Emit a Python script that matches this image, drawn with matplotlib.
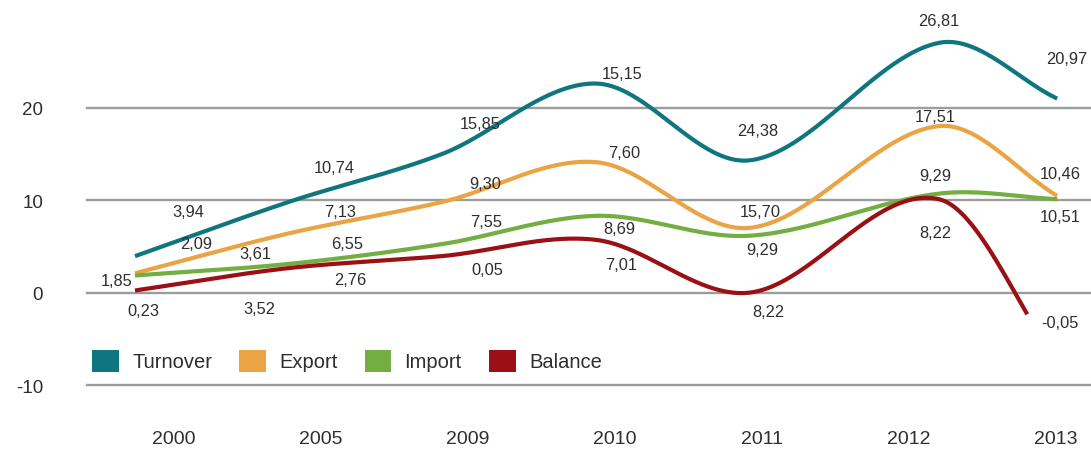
import numpy as np
import matplotlib
matplotlib.use("Agg")
import matplotlib.pyplot as plt
from matplotlib.patches import Patch
from matplotlib import transforms

# ---- data -------------------------------------------------------------
years = ["2000", "2005", "2009", "2010", "2011", "2012", "2013"]

# values (one per year slot)
turnover = [3.94, 9.8, 15.0, 22.6, 14.3, 27.0, 20.97]
export = [2.09, 6.4, 9.8, 14.1, 7.0, 18.0, 10.46]
imports = [1.85, 3.1, 5.25, 8.3, 6.15, 10.7, 10.1]
balance = [0.23, 2.65, 3.95, 5.7, 0.0, 10.1, -7.5]

# printed figures
turnover_labels = [3.94, 10.74, 15.85, 15.15, 24.38, 26.81, 20.97]
export_labels = [2.09, 7.13, 9.30, 7.55, 15.70, 17.51, 10.46]
import_labels = [1.85, 3.61, 6.55, 7.60, 8.69, 9.29, 9.29, 10.51]
balance_labels = [0.23, 3.52, 2.76, 0.05, 7.01, 8.22, 8.22, -0.05]

y_ticks = [20, 10, 0, -10]
series_names = ["Turnover", "Export", "Import", "Balance"]

# ---- layout -----------------------------------------------------------
W, H = 1091, 451
colors = ["#0f7680", "#eaa444", "#73ae42", "#9a1014"]
text_color = "#2e2e2e"
font = ["Liberation Sans", "DejaVu Sans"]

# horizontal placement of the curve knots (the 2012 knot sits a little late)
curve_x = [0, 1, 2, 3, 4, 5.23, 6]
balance_stop = 5.81   # the balance curve is cut short before the last knot

# label anchors in (year slot, value) units
turnover_pos = [(0.10, 8.7), (1.09, 13.47), (2.08, 18.22), (3.05, 23.63),
                (3.97, 17.46), (5.20, 29.26), (6.07, 25.15)]
export_pos = [(0.15, 5.15), (1.13, 8.61), (2.12, 11.74), (2.12, 7.63),
              (3.99, 8.71), (5.18, 18.88), (6.03, 12.82)]
import_pos = [(-0.39, 1.25), (0.55, 4.17), (1.18, 5.15), (3.06, 15.09),
              (3.03, 6.77), (4.0, 4.6), (5.18, 12.6), (6.03, 8.17)]
balance_pos = [(-0.21, -1.99), (0.58, -1.88), (1.20, 1.36), (2.13, 2.44),
               (3.04, 2.88), (4.04, -2.2), (5.18, 6.34), (6.03, -3.3)]


def smooth_curve(xk, values, n=80):
    """Cubic Hermite curve through the knots with Catmull-Rom style tangents."""
    x = np.asarray(xk, dtype=float)
    y = np.asarray(values, dtype=float)
    k = len(y)
    m = np.empty(k)
    m[1:-1] = (y[2:] - y[:-2]) / (x[2:] - x[:-2])
    m[0] = (y[1] - y[0]) / (x[1] - x[0])
    m[-1] = (y[-1] - y[-2]) / (x[-1] - x[-2])
    xs, ys = [], []
    for i in range(k - 1):
        h = x[i + 1] - x[i]
        t = np.linspace(0, 1, n, endpoint=(i == k - 2))
        h00 = 2 * t**3 - 3 * t**2 + 1
        h10 = t**3 - 2 * t**2 + t
        h01 = -2 * t**3 + 3 * t**2
        h11 = t**3 - t**2
        xs.append(x[i] + h * t)
        ys.append(h00 * y[i] + h10 * h * m[i] + h01 * y[i + 1] + h11 * h * m[i + 1])
    return np.concatenate(xs), np.concatenate(ys)


fig = plt.figure(figsize=(W / 100, H / 100), dpi=100)
fig.patch.set_facecolor("white")

# axes for the curves: first knot at 135 px, 153.7 px per slot
ax = fig.add_axes([0, 0, 1, 1])
ax.axis("off")
ax.set_xlim(-135 / 153.7, (W - 135) / 153.7)
ax.set_ylim((292.6 - H) / 9.25, 292.6 / 9.25)

# axes for year captions and printed figures: first slot at 174 px, 147 px per slot
ax_years = fig.add_axes([0, 0, 1, 1])
ax_years.axis("off")
ax_years.set_xlim(-174 / 147, (W - 174) / 147)
ax_years.set_ylim(ax.get_ylim())

for v in y_ticks:
    ax.axhline(v, xmin=87 / W, xmax=1, color="#9c9c9c", lw=1.7, zorder=1)

ytrans = transforms.offset_copy(
    transforms.blended_transform_factory(fig.transFigure, ax.transData),
    fig=fig, y=-3, units="dots")
for v in y_ticks:
    ax.text(43 / W, v, str(v), transform=ytrans, ha="right", va="center",
            fontsize=13.5, color=text_color, family=font)

for vals, c, name in zip([turnover, export, imports, balance], colors, series_names):
    x, y = smooth_curve(curve_x, vals)
    if name == "Balance":
        keep = x <= balance_stop
        x, y = x[keep], y[keep]
    ax.plot(x, y, color=c, lw=3.0, solid_capstyle="butt", zorder=3)

for labels, pos in [(turnover_labels, turnover_pos), (export_labels, export_pos),
                    (import_labels, import_pos), (balance_labels, balance_pos)]:
    for val, (lx, ly) in zip(labels, pos):
        ax_years.text(lx, ly, f"{val:.2f}".replace(".", ","), ha="center",
                      va="center", fontsize=11.8, color=text_color, family=font,
                      zorder=4)

for j, yr in enumerate(years):
    ax_years.text(j, (292.6 - 440) / 9.25, yr, ha="center", va="center",
                  fontsize=14, color=text_color, family=font)

handles = [Patch(facecolor=c, edgecolor="none") for c in colors]
fig.legend(handles, series_names, loc="center left",
           bbox_to_anchor=(92 / W, 1 - 361 / H), ncol=4, frameon=False,
           prop={"family": font, "size": 14.5}, labelcolor=text_color,
           handlelength=1.34, handleheight=1.34, handletextpad=0.65,
           columnspacing=1.34, borderpad=0, borderaxespad=0)

fig.savefig("out.png", dpi=100, facecolor="white")
